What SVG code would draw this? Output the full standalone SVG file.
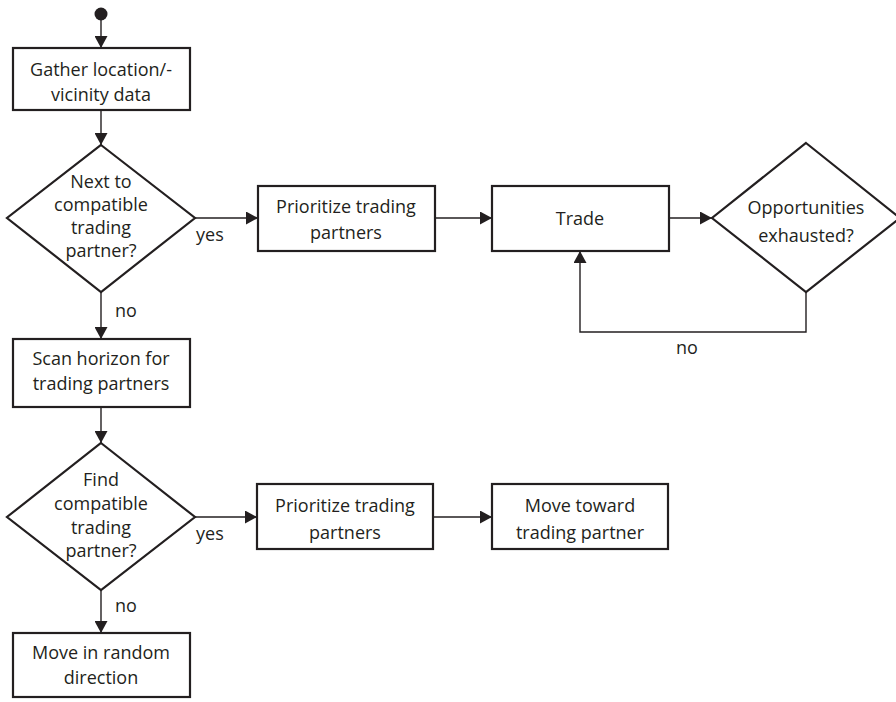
<svg xmlns="http://www.w3.org/2000/svg" width="896" height="702" viewBox="0 0 896 702">
<style>
.box{fill:#fff;stroke:#231f20;stroke-width:2.2}
.dia{fill:#fff;stroke:#231f20;stroke-width:2.2}
.con{fill:none;stroke:#231f20;stroke-width:1.4}
text{font-family:"Open Sans","Liberation Sans",sans-serif;font-size:18px;fill:#231f20;text-anchor:middle}
.lbl{text-anchor:start}
</style>
<defs>
<marker id="ah" markerWidth="12" markerHeight="13" refX="12" refY="6.5" orient="auto" markerUnits="userSpaceOnUse">
<path d="M0,0 L12,6.5 L0,13 Z" fill="#231f20"/>
</marker>
</defs>
<rect width="896" height="702" fill="#fff"/>
<g id="connectors">
<line class="con" x1="101" y1="14" x2="101" y2="48" marker-end="url(#ah)"/>
<line class="con" x1="101" y1="110" x2="101" y2="145" marker-end="url(#ah)"/>
<line class="con" x1="195" y1="218" x2="258" y2="218" marker-end="url(#ah)"/>
<line class="con" x1="435" y1="218" x2="492" y2="218" marker-end="url(#ah)"/>
<line class="con" x1="669" y1="218" x2="712" y2="218" marker-end="url(#ah)"/>
<polyline class="con" points="806,292 806,332 580,332 580,251" marker-end="url(#ah)"/>
<line class="con" x1="101" y1="292" x2="101" y2="339" marker-end="url(#ah)"/>
<line class="con" x1="101" y1="407" x2="101" y2="443" marker-end="url(#ah)"/>
<line class="con" x1="195" y1="517" x2="257" y2="517" marker-end="url(#ah)"/>
<line class="con" x1="433" y1="517" x2="492" y2="517" marker-end="url(#ah)"/>
<line class="con" x1="101" y1="590" x2="101" y2="633" marker-end="url(#ah)"/>
<text class="lbl" x="196" y="241">yes</text>
<text class="lbl" x="115" y="317">no</text>
<text class="lbl" x="676" y="354">no</text>
<text class="lbl" x="196" y="540">yes</text>
<text class="lbl" x="115" y="612">no</text>
</g>
<g id="start"><circle cx="101" cy="14" r="6.5" fill="#231f20"/></g>
<g id="gather">
<rect class="box" x="13" y="48" width="177" height="62"/>
<text x="101" y="76">Gather location/-</text>
<text x="101" y="101">vicinity data</text>
</g>
<g id="next">
<polygon class="dia" points="101,145 195,218 101,292 7,218"/>
<text x="101" y="188">Next to</text>
<text x="101" y="211">compatible</text>
<text x="101" y="234">trading</text>
<text x="101" y="257">partner?</text>
</g>
<g id="prio1">
<rect class="box" x="258" y="186" width="177" height="65"/>
<text x="346" y="213">Prioritize trading</text>
<text x="346" y="239">partners</text>
</g>
<g id="trade">
<rect class="box" x="492" y="186" width="177" height="65"/>
<text x="580" y="225">Trade</text>
</g>
<g id="exhausted">
<polygon class="dia" points="806,143 900,218 806,292 712,218"/>
<text x="806" y="214">Opportunities</text>
<text x="806" y="242">exhausted?</text>
</g>
<g id="scan">
<rect class="box" x="13" y="339" width="177" height="68"/>
<text x="101" y="365">Scan horizon for</text>
<text x="101" y="390">trading partners</text>
</g>
<g id="find">
<polygon class="dia" points="101,443 195,517 101,590 7,517"/>
<text x="101" y="486">Find</text>
<text x="101" y="510">compatible</text>
<text x="101" y="534">trading</text>
<text x="101" y="557">partner?</text>
</g>
<g id="prio2">
<rect class="box" x="257" y="484" width="176" height="65"/>
<text x="345" y="512">Prioritize trading</text>
<text x="345" y="539">partners</text>
</g>
<g id="toward">
<rect class="box" x="492" y="484" width="176" height="65"/>
<text x="580" y="512">Move toward</text>
<text x="580" y="539">trading partner</text>
</g>
<g id="random">
<rect class="box" x="13" y="633" width="177" height="64"/>
<text x="101" y="659">Move in random</text>
<text x="101" y="684">direction</text>
</g>
</svg>
